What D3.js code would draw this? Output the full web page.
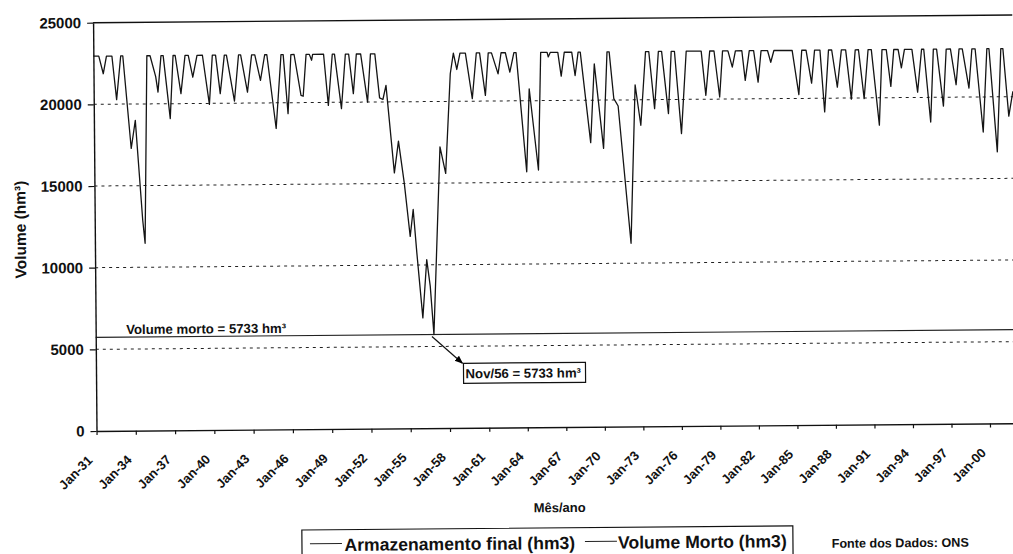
<!DOCTYPE html>
<html>
<head>
<meta charset="utf-8">
<script src="https://cdn.jsdelivr.net/npm/d3@7"></script>
<style>
  html, body { margin: 0; padding: 0; background: #fff; }
  svg { display: block; font-family: "Liberation Sans", Arial, sans-serif; }
</style>
</head>
<body>
<svg id="chart" width="1013" height="554"></svg>
<script>
// Monthly end-of-month storage of the reservoir (hm3), turning points of the series
const months = [
  "1931-01","1931-06","1931-10","1932-01","1932-06","1932-10","1933-02","1933-04","1933-11","1934-03","1934-09","1934-11",
  "1935-02","1935-05","1935-10","1935-12","1936-03","1936-05","1936-11","1937-02","1937-04","1937-09","1938-01","1938-04","1938-08","1938-12",
  "1939-05","1939-11","1940-02","1940-05","1940-09","1941-01","1941-03","1941-10","1942-02","1942-04","1942-10","1943-02","1943-05","1943-10",
  "1944-02","1944-04","1944-12","1945-05","1945-07","1945-11","1946-02","1946-05","1946-11","1947-01","1947-04","1947-07","1947-09","1947-10",
  "1948-08","1948-12","1949-04","1949-06","1949-12","1950-04","1950-07","1950-11","1951-02","1951-06","1951-12","1952-03","1952-07","1952-11",
  "1953-02","1953-05","1953-07","1953-12","1954-04","1954-09","1955-02","1955-05","1955-08","1956-01","1956-05","1956-08","1956-11","1957-06",
  "1957-11","1958-04","1958-07","1958-10","1959-01","1959-06","1959-12","1960-04","1960-07","1960-12","1961-03","1961-06","1961-12","1962-03",
  "1962-07","1962-11","1963-03","1963-05","1964-02","1964-05","1965-01","1965-04","1965-10","1965-11","1966-01","1966-08","1966-11","1967-02",
  "1967-09","1967-12","1968-03","1968-05","1969-02","1969-06","1970-02","1970-06","1970-08","1970-12","1971-04","1972-03","1972-08","1973-01",
  "1973-06","1973-09","1974-02","1974-06","1974-09","1975-03","1975-06","1975-09","1976-03","1976-08","1977-10","1978-02","1978-06","1978-10",
  "1979-03","1979-06","1979-11","1980-03","1980-06","1980-12","1981-03","1981-07","1981-11","1982-03","1982-06","1982-12","1983-03","1983-06",
  "1984-11","1985-05","1985-08","1985-12","1986-05","1986-08","1987-01","1987-05","1987-09","1987-12","1988-05","1988-09","1989-01","1989-06",
  "1989-10","1990-01","1990-06","1990-10","1991-01","1991-08","1991-11","1992-03","1992-07","1992-10","1993-02","1993-05","1993-08","1994-03",
  "1994-08","1994-12","1995-02","1995-08","1995-11","1996-02","1996-08","1996-11","1997-03","1997-08","1997-11","1998-02","1998-08","1998-11",
  "1999-02","1999-09","2000-01","2000-03","2000-10","2001-02","2001-04","2001-09","2002-01"
];
const storage = [
  22950,22950,21870,22950,22950,20280,22950,22950,17280,19000,12880,11470,
  22950,22950,21670,20720,22950,22950,19090,22950,22950,20610,22950,22950,21610,22950,
  22950,19940,22950,22950,20590,22950,22950,20130,22950,22950,20670,22950,22950,21380,
  22950,22950,18430,22950,22950,19330,22950,22950,20440,20390,22950,22950,22590,22950,
  22950,19820,22950,22950,19610,22950,22950,20520,22950,22950,20000,22950,22950,20250,
  20150,21010,19480,15650,17590,15020,11750,13400,10740,6760,10320,8700,5733,17220,
  15590,21690,22950,21950,22950,22950,20160,22950,22950,20350,22950,22950,21660,22950,
  22950,21760,22950,22950,15650,20730,15750,22950,22950,22670,22950,22950,21490,22950,
  22950,21520,22950,22950,17400,22220,17040,22950,22950,20080,19630,11220,20920,18440,
  22950,22950,19450,22950,22950,19140,22950,22950,17910,22950,22950,20240,22950,22950,
  20130,22950,22950,21950,22950,22950,21130,22950,22950,21020,22950,22950,22230,22950,
  22950,20240,22950,22950,20930,22950,22950,19160,22950,22950,20670,22950,22950,19930,
  22950,22950,19960,22950,22950,18320,22950,22950,20690,22950,22950,21820,22950,22950,
  20330,22950,22950,18490,22950,22950,19460,22950,22950,20760,22950,22950,20550,22950,
  22950,17850,22950,22950,16630,22950,22950,18810,20330
];

// Dead storage (volume morto) and the month it was reached
const deadVolume = 5733;
const deadVolumeMonth = "1956-11";

// Axis ticks
const yTicks = [0, 5000, 10000, 15000, 20000, 25000];
const yGrid = [5000, 10000, 15000, 20000];
const xTicks = [
  "1931-01","1934-01","1937-01","1940-01","1943-01","1946-01","1949-01","1952-01",
  "1955-01","1958-01","1961-01","1964-01","1967-01","1970-01","1973-01","1976-01",
  "1979-01","1982-01","1985-01","1988-01","1991-01","1994-01","1997-01","2000-01"
];

// Texts
const yTitle = "Volume (hm³)";
const xTitle = "Mês/ano";
const seriesNames = ["Armazenamento final (hm3)", "Volume Morto (hm3)"];
const deadLabel = "Volume morto = 5733 hm³";
const minLabel = "Nov/56 = 5733 hm³";
const sourceNote = "Fonte dos Dados: ONS";

const parseMonth = d3.timeParse("%Y-%m");
const series = months.map((m, i) => ({ date: parseMonth(m), value: storage[i] }));

const svg = d3.select("#chart");
const defs = svg.append("defs");
defs.append("marker")
  .attr("id", "arrowHead")
  .attr("viewBox", "0 0 10 10")
  .attr("refX", 9).attr("refY", 5)
  .attr("markerWidth", 7).attr("markerHeight", 7)
  .attr("orient", "auto")
  .append("path").attr("d", "M0,1 L10,5 L0,9 Z").attr("fill", "#000");

// The whole sheet sits at a slight tilt
const g = svg.append("g").attr("transform", "rotate(-0.48,95,431)");

// Time axis; tick spacing differs slightly between the two halves
const x = d3.scaleTime()
  .domain([parseMonth("1931-01"), parseMonth("1961-01"), parseMonth("2002-01")])
  .range([96.5, 489.3, 1015.7]);
const y = d3.scaleLinear().domain([0, 25000]).range([431, 22.7]);

const x0 = x.range()[0];
const x1 = x.range()[2];

// Dashed gridlines
g.append("g").selectAll("line").data(yGrid).join("line")
  .attr("x1", x0).attr("x2", x1)
  .attr("y1", d => y(d)).attr("y2", d => y(d))
  .attr("stroke", "#222").attr("stroke-width", 1)
  .attr("stroke-dasharray", "3,4");

// Top border of the plot area
g.append("line")
  .attr("x1", x0).attr("x2", x1)
  .attr("y1", y(25000)).attr("y2", y(25000))
  .attr("stroke", "#111").attr("stroke-width", 1.4);

// Dead volume line
g.append("line")
  .attr("x1", x0).attr("x2", x1)
  .attr("y1", y(deadVolume)).attr("y2", y(deadVolume))
  .attr("stroke", "#222").attr("stroke-width", 1.1);

// Storage series
const line = d3.line().x(d => x(d.date)).y(d => y(d.value));
g.append("path")
  .datum(series)
  .attr("d", line)
  .attr("fill", "none")
  .attr("stroke", "#141414")
  .attr("stroke-width", 1.3)
  .attr("stroke-linejoin", "round");

// Y axis
const yAxis = g.append("g")
  .attr("transform", `translate(${x0},0)`)
  .call(d3.axisLeft(y).tickValues(yTicks).tickSize(6).tickSizeOuter(0).tickPadding(6).tickFormat(d3.format("d")));
yAxis.select(".domain").attr("stroke", "#111").attr("stroke-width", 1.4);
yAxis.selectAll(".tick line").attr("stroke", "#111").attr("stroke-width", 1.2);
yAxis.selectAll(".tick text")
  .attr("font-size", 15).attr("font-weight", "bold").attr("fill", "#111")
  .attr("font-family", "Liberation Sans, Arial, sans-serif");

// X axis
const xAxis = g.append("g")
  .attr("transform", `translate(0,${y(0)})`)
  .call(d3.axisBottom(x).tickValues(xTicks.map(parseMonth)).tickSize(4).tickSizeOuter(0)
    .tickFormat(d3.timeFormat("%b-%y")));
xAxis.select(".domain").attr("stroke", "#111").attr("stroke-width", 1.4);
xAxis.selectAll(".tick line").attr("stroke", "#111").attr("stroke-width", 1.2);
xAxis.selectAll(".tick text")
  .attr("x", 0).attr("y", 0).attr("dy", 0)
  .attr("text-anchor", "end")
  .attr("transform", "translate(-4,30) rotate(-45)")
  .attr("font-size", 13).attr("font-weight", "bold").attr("fill", "#111")
  .attr("font-family", "Liberation Sans, Arial, sans-serif");

// Axis titles
g.append("text")
  .attr("transform", "translate(27.5,229) rotate(-90)")
  .attr("text-anchor", "middle")
  .attr("font-size", 15.5).attr("font-weight", "bold").attr("fill", "#111")
  .text(yTitle);
g.append("text")
  .attr("x", 559).attr("y", 516)
  .attr("text-anchor", "middle")
  .attr("font-size", 13).attr("font-weight", "bold").attr("fill", "#111")
  .text(xTitle);

// Dead volume label
g.append("text")
  .attr("x", 127).attr("y", y(deadVolume) - 3)
  .attr("font-size", 13.2).attr("font-weight", "bold").attr("fill", "#111")
  .text(deadLabel);

// Callout for the lowest storage
const minX = x(parseMonth(deadVolumeMonth));
const minY = y(deadVolume);
const box = { x: 464, y: 366.4, w: 122, h: 20 };
g.append("line")
  .attr("x1", minX - 2).attr("y1", minY + 2)
  .attr("x2", box.x - 1).attr("y2", box.y)
  .attr("stroke", "#111").attr("stroke-width", 1.2)
  .attr("marker-end", "url(#arrowHead)");
g.append("rect")
  .attr("x", box.x).attr("y", box.y).attr("width", box.w).attr("height", box.h)
  .attr("fill", "#fff").attr("stroke", "#111").attr("stroke-width", 1.2);
g.append("text")
  .attr("x", box.x + 2).attr("y", box.y + 15)
  .attr("font-size", 13.2).attr("font-weight", "bold").attr("fill", "#111")
  .text(minLabel);

// Legend
const legend = g.append("g");
legend.append("rect")
  .attr("x", 301).attr("y", 531.7).attr("width", 491).attr("height", 32)
  .attr("fill", "none").attr("stroke", "#111").attr("stroke-width", 1.2);
const legendItems = [
  { name: seriesNames[0], lx: 309, tx: 343.5 },
  { name: seriesNames[1], lx: 584, tx: 617 }
];
legendItems.forEach(item => {
  legend.append("line")
    .attr("x1", item.lx).attr("x2", item.lx + 32)
    .attr("y1", 545.5).attr("y2", 545.5)
    .attr("stroke", "#222").attr("stroke-width", 1);
  legend.append("text")
    .attr("x", item.tx).attr("y", 553)
    .attr("font-size", 17.6).attr("font-weight", "bold").attr("fill", "#111")
    .text(item.name);
});

// Data source
g.append("text")
  .attr("x", 830.7).attr("y", 554)
  .attr("font-size", 12.6).attr("font-weight", "bold").attr("fill", "#111")
  .text(sourceNote);
</script>
</body>
</html>
